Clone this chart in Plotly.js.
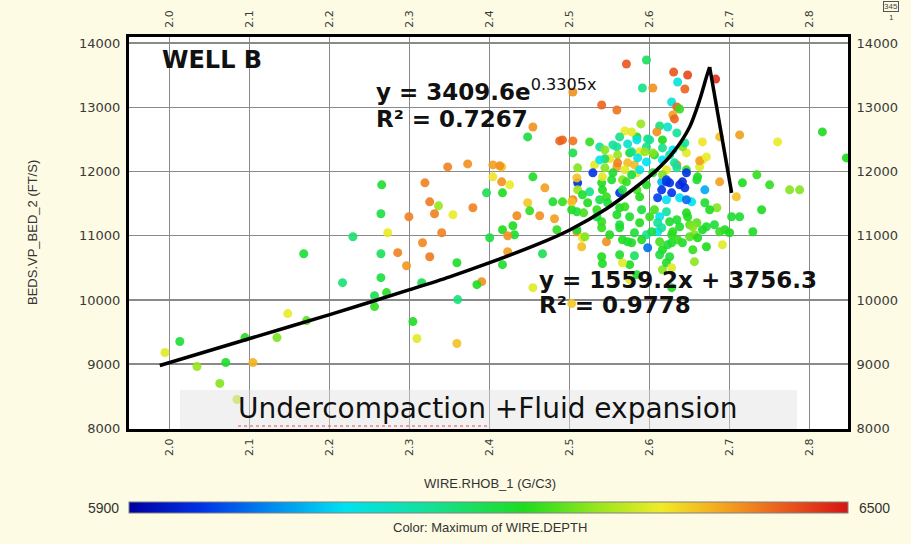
<!DOCTYPE html>
<html>
<head>
<meta charset="utf-8">
<script src="https://cdn.plot.ly/plotly-3.0.1.min.js"></script>
<style>
  html, body { margin: 0; padding: 0; background: #fdfbe3; }
  #chart { width: 911px; height: 544px; }
</style>
</head>
<body>
<div id="chart"></div>
<script>
// ---- DATA ----
// WIRE.RHOB_1 (g/cc) of each sample
const rho = [
  1.994,2.0125,2.034,2.07,2.0625,2.084,2.104,2.094,2.134,2.1475,2.171,2.216,2.1675,2.229,2.264,2.264,2.264,2.256,2.271,2.256,2.304,2.309,2.359,
  2.299,2.325,2.336,2.331,2.354,2.2725,2.285,2.316,2.325,2.296,2.34,2.315,2.359,2.36,2.3475,2.3725,2.404,2.415,2.265,2.319,2.379,2.404,2.415,2.425,2.396,2.416,2.454,2.4475,2.454,2.4875,2.469,2.4475,2.45,2.4625,2.434,2.481,2.491,2.416,2.429,2.431,2.484,2.4,2.4225,2.466,2.416,2.39,2.384,2.454,2.5025,2.5025,2.4225,2.4125,
  2.509,2.516,2.515,2.546,2.54,2.541,2.566,2.5775,2.581,2.575,2.566,2.584,2.5975,2.616,2.6275,2.616,2.641,2.656,2.671,2.691,2.7125,2.729,2.74,2.575,
  2.571,2.596,2.63,2.6475,2.635,2.6825,2.591,2.604,2.644,2.504,2.54,2.559,2.6275,2.634,2.6375,2.629,2.631,2.589,2.6125,2.6225,2.609,2.569,2.584,2.5625,2.5975,2.616,2.634,2.491,2.504,2.525,2.5725,2.5375,2.559,2.596,2.616,2.666,2.6875,2.7125,2.76,2.816,2.846,2.504,2.55,2.544,2.56,2.575,2.5875,2.606,2.625,2.646,2.641,2.634,2.581,2.559,2.531,2.584,2.604,2.646,2.6625,2.666,2.6625,2.6875,2.716,2.734,2.75,2.775,2.7875,
  2.529,2.51,2.51,2.54,2.5625,2.566,2.596,2.615,2.621,2.641,2.646,
  2.5775,2.584,2.6,2.644,2.554,2.544,2.5775,2.594,2.604,2.629,2.671,2.5375,2.56,2.5725,2.585,2.596,2.616,2.631,2.51,2.544,2.569,2.5875,2.621,2.634,2.541,2.554,2.5775,2.616,2.66,2.509,2.5525,2.571,2.621,2.625,2.6375,2.644,2.659,2.669,2.525,2.541,2.566,2.584,2.615,2.6275,2.504,2.516,2.5375,2.546,2.5875,2.61,2.621,2.6375,2.6525,2.669,2.684,2.509,2.534,2.5625,2.59,2.606,2.621,2.646,2.6125,2.575,2.54,2.5625,2.5875,2.61,2.625,2.65,2.671,2.509,2.519,2.55,2.581,2.596,2.61,2.6275,2.656,2.6275,2.625,
  2.479,2.5025,2.5225,2.5475,2.569,2.646,2.675,2.7025,2.5175,2.534,2.559,2.6,2.634,2.6475,2.659,2.681,2.694,2.54,2.5625,2.6025,2.615,2.629,2.6375,2.654,2.666,2.6875,2.5725,2.59,2.6125,2.6225,2.635,2.65,2.66,2.5625,2.6125,2.654,2.621,2.6275,2.7085,2.7
];
// BEDS.VP_BED_2 (ft/s) of each sample
const vp = [
  9181,9352,8963,9025,8700,8450,9025,9414,9414,9787,9678,10269,10720,10984,11342,10720,10347,10067,10114,9896,9663,9399,9321,
  11295,11528,11466,11342,11326,11047,10736,10891,10673,10533,11047,10269,10580,10005,12072,12119,12103,12072,11792,11824,11435,11917,11839,11793,11668,11668,11917,12539,12694,12477,11746,11513,11388,11311,11311,11264,11528,11093,11155,11015,11093,10969,10751,10720,10549,10285,10238,10191,9943,11404,10999,12088,
  11062,10969,10829,10907,10673,10565,10938,10891,10689,10549,10580,10394,10813,10782,10191,10471,10891,10596,10829,10860,11295,11062,11404,10316,
  13674,13736,13549,13503,13394,13440,13300,13300,13285,13238,13036,12958,13083,13005,12974,12881,12819,12741,12710,12694,12617,12632,12539,12539,12508,12492,12601,12492,12477,12461,12430,12383,12383,12383,12368,12461,12539,12570,12461,12617,12212,12290,12197,12197,12259,12290,12306,12259,12259,12290,12383,12103,12103,12072,12103,11979,11979,12026,12072,12181,12166,11839,11824,11948,11793,11715,11715,
  11979,11824,11715,11824,11668,11870,11793,11839,11839,11839,11979,
  12617,12492,12492,12446,12414,12337,12306,12306,12290,12337,12228,12181,12135,12135,12212,12150,12181,12135,12057,12057,12026,12026,12026,12057,11917,11979,11948,11948,11917,11901,11870,11839,11870,11824,11793,11746,11870,11715,11684,11715,11715,11715,11715,11668,11560,11637,11560,11606,11606,11591,11560,11591,11528,11513,11435,11373,11404,11435,11404,11404,11373,11357,11295,11295,11217,11171,11202,11202,11217,11171,11140,11093,10984,11015,11047,11015,11062,11015,11015,10891,10673,
  11528,11528,11513,11513,11450,11560,11404,11295,11357,11295,11326,11295,11248,11295,11202,11171,11093,11124,11124,11062,11124,11062,11140,11140,11093,11062,10907,10938,10907,10860,10938,10984,10969,10704,10704,10782,10580,10503,11606,11047
];
// WIRE.DEPTH (ft) of each sample, shown as colour
const depth = [
  6335,6215,6290,6220,6280,6320,6385,6235,6275,6340,6260,6175,6215,6180,6205,6190,6210,6200,6235,6240,6225,6335,6375,
  6420,6425,6290,6420,6340,6340,6420,6415,6425,6405,6420,6195,6225,6170,6420,6410,6400,6370,6220,6420,6420,6350,6410,6340,6195,6230,6225,6210,6410,6440,6400,6370,6240,6410,6415,6400,6240,6230,6230,6220,6240,6210,6400,6195,6220,6410,6230,6335,6370,6230,6410,6410,
  6410,6340,6380,6410,6230,6225,6230,6225,6185,6230,6335,6225,6000,6230,6230,6280,6220,6285,6230,6335,6220,6225,6230,6335,
  6450,6190,6450,6460,6100,6480,6160,6410,6440,6410,6440,6430,6100,6440,6240,6400,6440,6290,6170,6110,6410,6340,6230,6160,6170,6230,6150,6440,6430,6240,6110,6150,6150,6160,6160,6350,6375,6400,6340,6230,6230,6200,6340,6195,6290,6230,6335,6220,6150,6335,6280,6420,6380,6400,6335,6340,6220,6240,6335,6340,6400,6400,6230,6240,6240,6280,6280,
  5960,5950,6290,6225,5960,6280,6230,6050,5960,5950,5960,
  6335,6090,6150,6150,6150,6280,6160,6290,6280,6080,6340,6090,6420,6380,6090,6080,6080,6150,6280,6280,6335,6080,6335,6150,6335,6220,6210,6280,6230,6375,6220,6240,5970,5960,5950,5950,6220,6040,6160,6230,6210,6250,5960,5960,6420,6220,6200,6240,6230,5970,6080,6080,6080,6220,6280,6215,6240,6225,6210,6250,6150,6230,6080,6220,6240,6210,6230,6150,6220,6260,6220,6215,6280,6230,6215,6150,6080,6235,6280,6220,6215,
  6220,6375,6230,6215,6240,6000,6230,6220,6250,6210,6225,6240,6220,6230,6260,6215,6230,6240,6220,6210,6150,6235,6220,6280,6225,6240,6220,6230,6250,6215,6240,6260,6230,6220,6210,6240,6225,6335,6375,6230
];
// hand-drawn trend curve: rising (smooth) part and falling (straight) part
const riseRho = [1.9875,2.1,2.2,2.3,2.35,2.4,2.4625,2.5,2.546,2.579,2.609,2.629,2.65,2.6625,2.671,2.675];
const riseVp  = [8979,9399,9772,10160,10360,10580,10880,11090,11420,11720,12026,12290,12694,13114,13471,13627];
const fallRho = [2.675,2.7025];
const fallVp  = [13627,11668];
// axis ticks
const xTicks = [2.0,2.1,2.2,2.3,2.4,2.5,2.6,2.7,2.8];
const xTickText = ['2.0','2.1','2.2','2.3','2.4','2.5','2.6','2.7','2.8'];
const yTicks = [8000,9000,10000,11000,12000,13000,14000];
const yTickText = ['8000','9000','10000','11000','12000','13000','14000'];
const depthRange = [5900, 6500];
const depthLabels = ['5900', '6500'];

// ---- CHART ----
const jetLike = [
  [0,'rgb(0,0,160)'],[0.1,'rgb(0,50,230)'],[0.2,'rgb(0,140,240)'],[0.3,'rgb(0,225,240)'],
  [0.42,'rgb(20,225,150)'],[0.55,'rgb(30,220,30)'],[0.65,'rgb(150,230,30)'],[0.74,'rgb(240,235,40)'],
  [0.82,'rgb(245,170,30)'],[0.9,'rgb(235,100,30)'],[1,'rgb(215,20,20)']
];

const tickFont = {family:'DejaVu Sans, sans-serif', size:13, color:'#3a3a3a'};
const xTickFont = {family:'DejaVu Sans, sans-serif', size:11, color:'#3a3a3a'};

const P = (px) => (px - 129) / 719;
const Q = (py) => (429 - py) / 392;

const traces = [
  {
    type:'scatter', mode:'markers', x:rho, y:vp, hoverinfo:'skip',
    marker:{
      size:9, opacity:0.9, color:depth, colorscale:jetLike,
      cmin:depthRange[0], cmax:depthRange[1], line:{width:0},
      showscale:true,
      colorbar:{
        orientation:'h', xref:'paper', yref:'paper',
        x:0.5, xanchor:'center', y:Q(508), yanchor:'middle',
        lenmode:'fraction', len:1, thickness:11, xpad:0, ypad:0,
        outlinewidth:1, outlinecolor:'#808080', showticklabels:false, ticks:''
      }
    }
  },
  {
    type:'scatter', mode:'lines', x:riseRho, y:riseVp, hoverinfo:'skip',
    line:{color:'#000000', width:3.5, shape:'spline', smoothing:0.8}
  },
  {
    type:'scatter', mode:'lines', x:fallRho, y:fallVp, hoverinfo:'skip',
    line:{color:'#000000', width:3.5}
  },
  {
    type:'scatter', mode:'markers', x:[xTicks[0]], y:[yTicks[1]], xaxis:'x2', yaxis:'y2',
    marker:{opacity:0}, hoverinfo:'skip'
  }
];

const xr = [1.949, 2.848];
const yr = [7990, 14095];

const layout = {
  width:911, height:544,
  paper_bgcolor:'#fdfbe3', plot_bgcolor:'#ffffff',
  margin:{l:129, r:63, t:37, b:115},
  showlegend:false,
  xaxis:{
    range:xr, tickvals:xTicks, ticktext:xTickText, tickangle:-90, tickfont:xTickFont,
    showgrid:true, gridcolor:'#8a8a8a', gridwidth:1.4, zeroline:false,
    showline:true, linecolor:'#000', linewidth:3, ticks:'', ticklabelstandoff:2
  },
  xaxis2:{
    range:xr, overlaying:'x', side:'top', anchor:'y2', tickvals:xTicks, ticktext:xTickText,
    tickangle:-90, tickfont:xTickFont, showgrid:false, zeroline:false,
    showline:true, linecolor:'#000', linewidth:3, ticks:'', ticklabelstandoff:4
  },
  yaxis:{
    range:yr, tickvals:yTicks, ticktext:yTickText, tickfont:tickFont,
    showgrid:true, gridcolor:'#8a8a8a', gridwidth:1.4, zeroline:false,
    showline:true, linecolor:'#000', linewidth:3, ticks:'', ticklabelstandoff:3
  },
  yaxis2:{
    range:yr, overlaying:'y', side:'right', anchor:'x2', tickvals:yTicks, ticktext:yTickText,
    tickfont:tickFont, showgrid:false, zeroline:false,
    showline:true, linecolor:'#000', linewidth:3, ticks:'', ticklabelstandoff:3
  },
  shapes:[
    {type:'rect', xref:'paper', yref:'paper', x0:P(180), x1:P(797), y0:0, y1:Q(390),
     fillcolor:'rgba(225,225,225,0.45)', line:{width:0}, layer:'above'},
    {type:'line', xref:'paper', yref:'paper', x0:P(238), x1:P(488), y0:Q(426), y1:Q(426),
     line:{color:'rgba(220,40,40,0.8)', width:1.2, dash:'dot'}, layer:'above'}
  ],
  annotations:[
    {xref:'paper', yref:'paper', x:P(160), y:Q(60), xanchor:'left', yanchor:'middle', showarrow:false,
     text:'<b>WELL B</b>', font:{family:'DejaVu Sans, sans-serif', size:24, color:'#111'}},
    {xref:'paper', yref:'paper', x:P(374), y:Q(90), xanchor:'left', yanchor:'middle', showarrow:false,
     text:'<b>y = 3409.6e</b><sup>0.3305x</sup>', font:{family:'DejaVu Sans, sans-serif', size:23, color:'#111'}},
    {xref:'paper', yref:'paper', x:P(374), y:Q(119), xanchor:'left', yanchor:'middle', showarrow:false,
     text:'<b>R² = 0.7267</b>', font:{family:'DejaVu Sans, sans-serif', size:23, color:'#111'}},
    {xref:'paper', yref:'paper', x:P(537), y:Q(280), xanchor:'left', yanchor:'middle', showarrow:false,
     text:'<b>y = 1559.2x + 3756.3</b>', font:{family:'DejaVu Sans, sans-serif', size:23, color:'#111'}},
    {xref:'paper', yref:'paper', x:P(537), y:Q(305), xanchor:'left', yanchor:'middle', showarrow:false,
     text:'<b>R² = 0.9778</b>', font:{family:'DejaVu Sans, sans-serif', size:23, color:'#111'}},
    {xref:'paper', yref:'paper', x:P(488), y:Q(408), xanchor:'center', yanchor:'middle', showarrow:false,
     text:'Undercompaction +Fluid expansion', font:{family:'DejaVu Sans, sans-serif', size:28, color:'#111'}},
    {xref:'paper', yref:'paper', x:P(32), y:0.5, xanchor:'center', yanchor:'middle', showarrow:false, textangle:-90,
     text:'BEDS.VP_BED_2 (FT/S)', font:{family:'Liberation Sans, Arial, sans-serif', size:13, color:'#333'}},
    {xref:'paper', yref:'paper', x:P(490), y:Q(483), xanchor:'center', yanchor:'middle', showarrow:false,
     text:'WIRE.RHOB_1 (G/C3)', font:{family:'Liberation Sans, Arial, sans-serif', size:13, color:'#333'}},
    {xref:'paper', yref:'paper', x:P(490), y:Q(527), xanchor:'center', yanchor:'middle', showarrow:false,
     text:'Color: Maximum of WIRE.DEPTH', font:{family:'Liberation Sans, Arial, sans-serif', size:13, color:'#333'}},
    {xref:'paper', yref:'paper', x:P(121), y:Q(508), xanchor:'right', yanchor:'middle', showarrow:false,
     text:depthLabels[0], font:{family:'Liberation Sans, Arial, sans-serif', size:14, color:'#333'}},
    {xref:'paper', yref:'paper', x:P(857), y:Q(508), xanchor:'left', yanchor:'middle', showarrow:false,
     text:depthLabels[1], font:{family:'Liberation Sans, Arial, sans-serif', size:14, color:'#333'}},
    {xref:'paper', yref:'paper', x:P(891), y:Q(6), xanchor:'center', yanchor:'middle', showarrow:false,
     text:'345', bordercolor:'#555', borderwidth:1, borderpad:0,
     font:{family:'Liberation Sans, Arial, sans-serif', size:8, color:'#444'}},
    {xref:'paper', yref:'paper', x:P(891), y:Q(18), xanchor:'center', yanchor:'middle', showarrow:false,
     text:'1', font:{family:'Liberation Sans, Arial, sans-serif', size:8, color:'#444'}}
  ]
};

Plotly.newPlot('chart', traces, layout, {staticPlot:true, displayModeBar:false});
</script>
</body>
</html>
